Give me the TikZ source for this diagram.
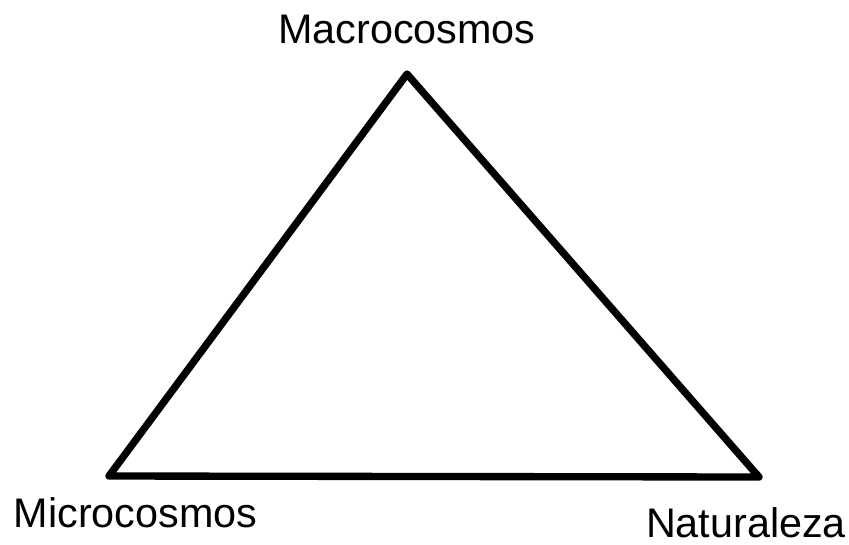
\documentclass[tikz,border=0pt]{standalone}
\usepackage{fontspec}
\setmainfont{Liberation Sans}
\begin{document}
\begin{tikzpicture}[x=0.75pt,y=-0.75pt,
  lbl/.style={anchor=base,inner sep=0pt,font=\fontsize{31}{36}\selectfont},
  edge/.style={line width=5.5pt,line join=round,line cap=round}]
\useasboundingbox (0,0) rectangle (849,544);
\coordinate (top) at (407,74);
\coordinate (left) at (109,476);
\coordinate (right) at (759,477);
\node[lbl] (macro) at (407,43) {Macrocosmos};
\node[lbl] (micro) at (135.5,527) {Microcosmos};
\node[lbl] (nat) at (746,537) {Naturaleza};
\draw[edge] (top) -- (right) -- (left) -- cycle;
\end{tikzpicture}
\end{document}
